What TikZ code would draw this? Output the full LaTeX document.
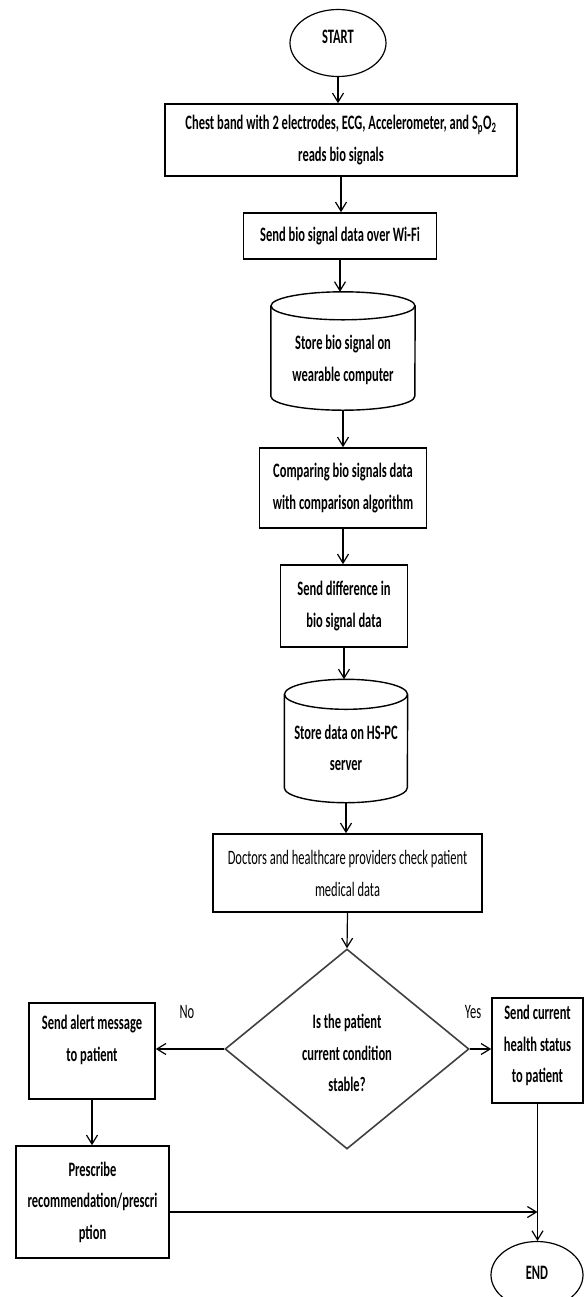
\documentclass[tikz,border=0pt]{standalone}
\usepackage{fontspec}
\newfontfamily\cf{Carlito}[FakeStretch=0.61]
\usetikzlibrary{shapes.geometric,arrows.meta}
\newcommand\cylshape[3]{%
  \draw[cylline] ([yshift=-#3]#1.north) ellipse [x radius=#2, y radius=#3];
  \draw[cylline] ([yshift=-#3]#1.north west) -- ([yshift=#3]#1.south west)
     arc[start angle=180,end angle=360,x radius=#2,y radius=#3] -- ([yshift=-#3]#1.north east);}
\begin{document}
\begin{tikzpicture}[x=1bp,y=-1bp,
  txt/.style={font=\cf\bfseries\fontsize{20.5bp}{31.5bp}\selectfont, align=center},
  rtxt/.style={font=\cf\fontsize{20.5bp}{32bp}\selectfont, align=center},
  boxst/.style={draw=black, line width=1.6bp, rectangle, inner sep=0pt, txt},
  ovalst/.style={draw=black, line width=1.2bp, ellipse, inner sep=0pt, txt},
  decst/.style={draw=black!75, line width=1.6bp, diamond, inner sep=0pt, txt},
  cylarea/.style={inner sep=0pt, rectangle},
  cylline/.style={draw=black, line width=1.4bp},
  arr/.style={draw=black, line width=1.2bp, -{Straight Barb[length=9bp,width=11bp]}},
]
\useasboundingbox (0,0) rectangle (584,1297);
\node[ovalst, minimum width=96bp, minimum height=67bp,
  label={[txt,yshift=6bp]center:START}] (start) at (338,43) {};
\node[boxst, minimum width=352bp, minimum height=72bp] (chest) at (341,140)
  {Chest band with 2 electrodes, ECG, Accelerometer, and S\textsubscript{p}O\textsubscript{2}\\reads bio signals};
\node[boxst, minimum width=193bp, minimum height=46bp] (wifi) at (340,236)
  {Send bio signal data over Wi-Fi};
\node[cylarea, minimum width=144bp, minimum height=118bp,
  label={[txt,yshift=-9bp]center:{Store bio signal on\\wearable computer}}] (c1) at (343,351) {};
\cylshape{c1}{72bp}{14bp}
\node[boxst, minimum width=167bp, minimum height=80bp] (comp) at (343,488)
  {Comparing bio signals data\\with comparison algorithm};
\node[boxst, minimum width=127bp, minimum height=82bp] (diff) at (344,606)
  {Send difference in\\bio signal data};
\node[cylarea, minimum width=123bp, minimum height=123bp,
  label={[txt,yshift=-7bp]center:{Store data on HS-PC\\server}}] (c2) at (346,741) {};
\cylshape{c2}{61.5bp}{15bp}
\node[boxst, rtxt, minimum width=269bp, minimum height=78bp] (doc) at (347.5,873)
  {Doctors and healthcare providers check patient\\medical data};
\node[decst, minimum width=244bp, minimum height=200bp,
  label={[txt,yshift=-4bp]center:{Is the patient\\current condition\\stable?}}] (dec) at (347,1049) {};
\node[boxst, minimum width=126bp, minimum height=96bp,
  label={[txt,yshift=11bp]center:{Send alert message\\to patient}}] (alert) at (92,1051) {};
\node[boxst, minimum width=91bp, minimum height=105bp,
  label={[txt,yshift=5bp]center:{Send current\\health status\\to patient}}] (yes) at (537.5,1050.5) {};
\node[boxst, minimum width=153bp, minimum height=112bp] (presc) at (92.5,1202)
  {Prescribe\\recommendation/prescri\\ption};
\node[ovalst, minimum width=92bp, minimum height=67bp,
  label={[txt,yshift=2bp]center:END}] (end) at (537,1275) {};
\node[rtxt] (nolab) at (187,1012) {No};
\node[rtxt] (yeslab) at (473,1012) {Yes};
\draw[arr] (start.south) -- (start.south |- chest.north);
\draw[arr] (chest.south) -- (chest.south |- wifi.north);
\draw[arr] (wifi.south) -- (wifi.south |- c1.north);
\draw[arr] (c1.south) -- (c1.south |- comp.north);
\draw[arr] (comp.south) -- (comp.south |- diff.north);
\draw[arr] (diff.south) -- (diff.south |- c2.north);
\draw[arr] (c2.south) -- (c2.south |- doc.north);
\draw[arr] (doc.south) -- (dec.north);
\draw[arr] (dec.west) -- (dec.west -| alert.east);
\draw[arr] (dec.east) -- (dec.east -| yes.west);
\draw[arr] (alert.south) -- (alert.south |- presc.north);
\draw[arr] (yes.south) -- (yes.south |- end.north);
\draw[arr] ([yshift=-10bp]presc.east) -- ([yshift=-10bp]presc.east -| yes.south);
\end{tikzpicture}
\end{document}
